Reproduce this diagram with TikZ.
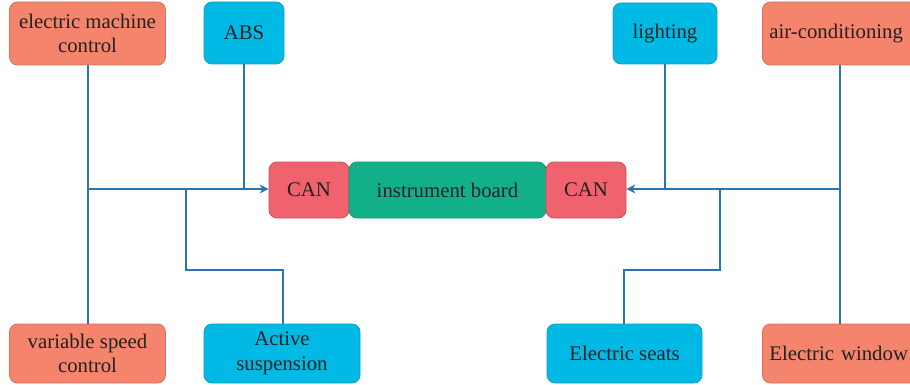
\documentclass[tikz,border=0pt]{standalone}
\usepackage{fontspec}
\setmainfont{Liberation Serif}
\usetikzlibrary{arrows.meta}
\definecolor{salmon}{HTML}{F4846B}
\definecolor{salmonb}{HTML}{D9705A}
\definecolor{cyanb}{HTML}{00B9E4}
\definecolor{cyand}{HTML}{1A9CC4}
\definecolor{greenb}{HTML}{12B088}
\definecolor{greend}{HTML}{0E9A77}
\definecolor{canred}{HTML}{EF626E}
\definecolor{canredd}{HTML}{D24F5B}
\definecolor{linec}{HTML}{2A74B6}
\definecolor{txt}{HTML}{222222}
\tikzset{
  box/.style={rounded corners=8pt, line width=0.8pt, text=txt, align=center, inner sep=0pt, font=\fontsize{20.8}{24.5}\selectfont},
  orangebox/.style={box, fill=salmon, draw=salmonb},
  bluebox/.style={box, fill=cyanb, draw=cyand},
  greenbox/.style={box, fill=greenb, draw=greend},
  canbox/.style={box, fill=canred, draw=canredd},
  cutbox/.style={orangebox, anchor=west, text width=166pt, align=left, inner xsep=7pt},
  conn/.style={draw=linec, line width=2pt},
  arr/.style={conn, -{Stealth[length=9pt,width=9pt]}}
}
\begin{document}
\begin{tikzpicture}[x=1pt,y=-1pt]
\useasboundingbox (0,0) rectangle (910,385);
\node[orangebox, minimum width=156pt, minimum height=63pt] (emc) at (87.5,33.5) {electric machine\\control};
\node[bluebox, minimum width=80pt, minimum height=62pt] (abs) at (244,33) {ABS};
\node[bluebox, minimum width=104pt, minimum height=61pt] (light) at (665,33.5) {lighting};
\node[cutbox, minimum height=63pt] (air) at (762,33.5) {air-conditioning};
\node[canbox, minimum width=80pt, minimum height=56pt] (canl) at (309,190) {CAN};
\node[greenbox, minimum width=197pt, minimum height=56pt] (ib) at (447.5,190) {instrument board};
\node[canbox, minimum width=80pt, minimum height=56pt] (canr) at (586,190) {CAN};
\node[orangebox, minimum width=156pt, minimum height=59pt] (vsc) at (87.5,353.5) {variable speed\\control};
\node[bluebox, minimum width=156pt, minimum height=59pt] (as) at (282,353.5) {Active\\suspension};
\node[bluebox, minimum width=155pt, minimum height=59pt] (es) at (624.5,353.5) {Electric seats};
\node[cutbox, minimum height=59pt] (ew) at (762,353.5) {Electric window};
\coordinate (jl) at (88,189);
\coordinate (jr) at (840,189);
% left side
\draw[conn] (emc.south -| jl) -- (vsc.north -| jl);
\draw[arr] (jl) -- (canl.west |- jl);
\draw[conn] (abs.south) -- (abs.south |- jl);
\draw[conn] (as.north -| 283,0) -- (283,270) -- (186,270) -- (186,189);
% right side
\draw[conn] (air.south -| jr) -- (ew.north -| jr);
\draw[arr] (jr) -- (canr.east |- jr);
\draw[conn] (light.south) -- (light.south |- jr);
\draw[conn] (es.north -| 624,0) -- (624,270) -- (720,270) -- (720,189);
\end{tikzpicture}
\end{document}
